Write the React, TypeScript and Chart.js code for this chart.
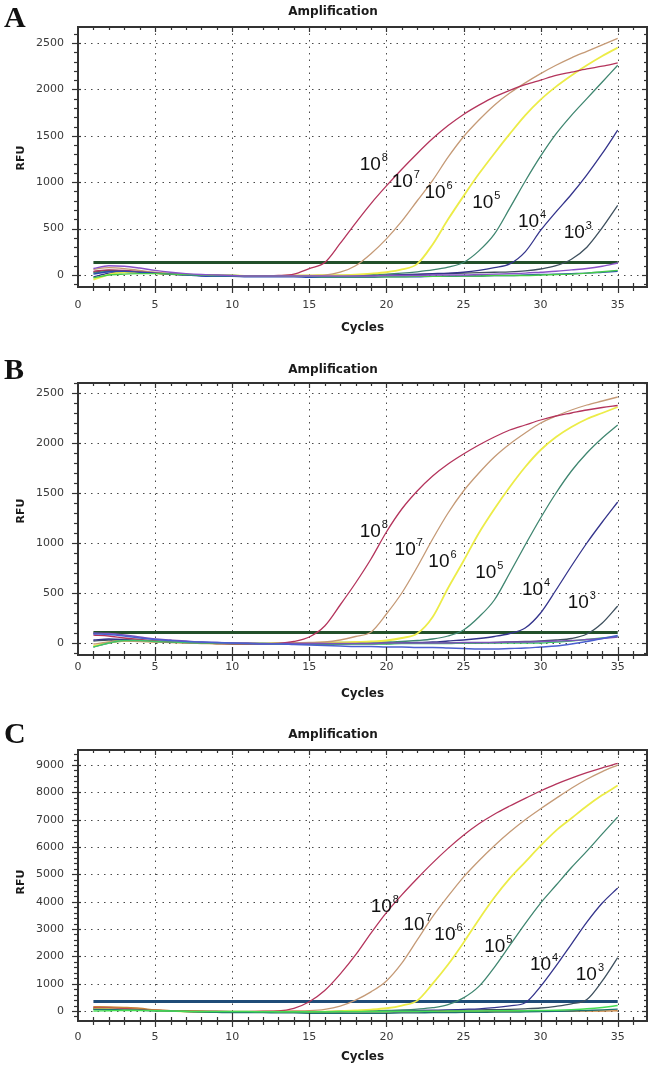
import React, { useEffect, useRef } from 'react';
import { Chart, registerables } from 'chart.js';

Chart.register(...registerables);
Chart.defaults.font.family = '"DejaVu Sans", sans-serif';

// ---------- shared categories ----------
const cycles = [1,2,3,4,5,6,7,8,9,10,11,12,13,14,15,16,17,18,19,20,21,22,23,24,25,26,27,28,29,30,31,32,33,34,35];
const xTickValues = [0, 5, 10, 15, 20, 25, 30, 35];
const seriesNames = ['10^8', '10^7', '10^6', '10^5', '10^4', '10^3'];
const exponents = ['8', '7', '6', '5', '4', '3'];
const curveColors = ['#b4345c', '#c59a76', '#ecec48', '#3f8670', '#34348c', '#3e505e'];
const curveWidths = [1.3, 1.3, 1.8, 1.3, 1.3, 1.3];

// ---------- Panel A ----------
const A_yTicks = [0, 500, 1000, 1500, 2000, 2500];
const A_1e8 = [40,55,50,35,20,10,5,0,-5,-10,-10,-8,-5,10,70,135,340,560,770,960,1140,1310,1470,1610,1730,1830,1920,1990,2050,2100,2150,2185,2220,2250,2285];
const A_1e7 = [60,80,70,50,30,15,5,0,-5,-8,-10,-10,-10,-8,-5,0,30,100,230,390,580,800,1020,1270,1490,1670,1830,1960,2070,2170,2260,2340,2410,2480,2550];
const A_1e6 = [-50,5,30,30,20,10,5,0,-5,-5,-10,-10,-10,-5,-5,0,0,5,15,30,60,120,330,600,850,1090,1310,1520,1720,1890,2030,2150,2260,2360,2450];
const A_1e5 = [20,40,40,30,20,10,0,-5,-5,-10,-10,-10,-10,-10,-10,-5,-5,0,5,10,20,35,55,85,135,260,440,720,1010,1280,1520,1720,1900,2080,2260];
const A_1e4 = [-20,20,35,30,20,10,0,-5,-10,-10,-15,-15,-15,-15,-15,-15,-10,-10,-5,0,5,10,15,20,30,50,80,120,250,480,680,870,1080,1310,1560];
const A_1e3 = [30,50,45,35,25,15,5,0,-5,-5,-10,-10,-10,-10,-10,-10,-10,-5,-5,0,0,5,10,15,20,25,30,35,45,65,100,170,300,510,750];
const A_negPurple = [70,100,95,75,50,30,15,5,0,-5,-10,-10,-10,-10,-10,-10,-10,-10,-10,-5,-5,-5,0,0,0,5,10,15,20,30,40,55,70,95,130];
const A_negGreen = [-30,0,10,15,15,10,5,0,-5,-5,-10,-10,-10,-15,-15,-20,-20,-20,-20,-20,-20,-15,-15,-10,-10,-10,-5,-5,-5,0,5,10,20,35,50];
const A_negBlue = [10,35,40,30,20,10,0,-10,-15,-15,-20,-20,-20,-20,-25,-25,-25,-25,-25,-20,-20,-20,-15,-15,-10,-10,-5,-5,0,5,10,15,20,30,40];
const A_threshold = 135;
const A_labelCycle = [18.27, 20.34, 22.47, 25.56, 28.53, 31.5];
const A_labelRFU = [1131, 948, 830, 722, 517, 399];

// ---------- Panel B ----------
const B_yTicks = [0, 500, 1000, 1500, 2000, 2500];
const B_1e8 = [80,70,50,35,20,10,5,0,-5,-10,-10,-10,-5,15,60,170,380,600,840,1110,1340,1520,1670,1790,1890,1980,2060,2130,2180,2230,2270,2300,2330,2355,2375];
const B_1e7 = [-10,10,20,15,10,5,0,-5,-5,-10,-10,-10,-5,0,5,10,30,65,110,290,500,760,1040,1300,1520,1700,1860,1990,2100,2200,2270,2330,2380,2420,2460];
const B_1e6 = [-30,5,20,20,15,10,5,0,-5,-5,-5,-5,0,0,0,5,5,10,15,25,50,95,260,550,820,1100,1340,1560,1760,1930,2060,2160,2240,2300,2360];
const B_1e5 = [-40,0,20,25,20,15,10,5,0,-5,-5,-5,-5,-5,0,0,5,5,10,10,15,25,40,70,130,260,430,700,980,1250,1500,1720,1900,2050,2180];
const B_1e4 = [30,40,35,25,15,10,5,0,-5,-5,-10,-10,-10,-10,-10,-10,-5,-5,-5,0,0,5,10,20,30,45,65,95,150,300,530,770,1000,1210,1410];
const B_1e3 = [20,30,25,20,15,10,5,0,-5,-5,-10,-10,-10,-10,-10,-10,-10,-5,-5,-5,0,0,0,0,0,0,5,10,15,20,30,45,90,200,370];
const B_negBlue = [90,85,70,50,35,25,15,10,5,0,-5,-10,-10,-15,-20,-25,-30,-35,-35,-40,-40,-45,-45,-50,-55,-60,-60,-55,-50,-40,-30,-10,15,45,75];
const B_negPurple = [100,95,80,60,40,30,20,10,5,0,0,-5,-5,-5,-5,-5,-5,-5,-5,0,0,0,0,0,5,5,5,10,10,15,20,25,35,45,60];
const B_negGreen = [-40,0,25,25,15,10,5,0,0,-5,-5,-5,-10,-10,-10,-10,-10,-10,-10,-10,-5,-5,-5,-5,0,0,0,0,0,0,10,20,35,50,65];
const B_threshold = 105;
const B_labelCycle = [18.27, 20.53, 22.72, 25.76, 28.79, 31.76];
const B_labelRFU = [1060, 880, 760, 650, 480, 350];

// ---------- Panel C ----------
const C_yTicks = [0, 1000, 2000, 3000, 4000, 5000, 6000, 7000, 8000, 9000];
const C_1e8 = [120,120,100,60,30,10,0,-10,-10,-20,-20,-10,0,100,340,750,1350,2050,2850,3600,4250,4850,5420,5950,6430,6850,7200,7500,7780,8050,8300,8520,8720,8900,9060];
const C_1e7 = [150,130,110,70,30,10,0,-10,-20,-20,-20,-20,-10,0,10,60,180,400,700,1100,1750,2600,3450,4200,4900,5500,6050,6550,7000,7400,7780,8150,8480,8760,9000];
const C_1e6 = [80,70,60,40,20,0,-20,-30,-30,-40,-40,-40,-40,-30,-30,-20,-10,20,50,100,200,380,1000,1700,2500,3350,4150,4850,5450,6050,6600,7050,7500,7900,8250];
const C_1e5 = [100,90,70,40,20,0,-20,-30,-30,-40,-40,-40,-40,-40,-30,-30,-20,-10,0,20,40,70,120,230,480,900,1600,2400,3200,3950,4600,5250,5850,6480,7100];
const C_1e4 = [60,60,50,30,10,0,-10,-20,-20,-30,-30,-30,-30,-30,-20,-20,-10,-10,0,0,10,20,30,40,60,80,120,190,300,900,1650,2450,3250,3950,4500];
const C_1e3 = [90,80,70,50,20,0,-10,-20,-20,-20,-30,-30,-30,-30,-20,-20,-20,-10,-10,0,0,10,15,20,30,40,50,60,80,110,170,260,420,1100,1950];
const C_negGreen = [0,10,20,20,10,0,-10,-20,-20,-20,-20,-30,-30,-30,-30,-30,-20,-20,-20,-20,-10,-10,-10,0,0,0,10,10,10,20,30,50,80,130,200];
const C_negTeal = [60,50,40,30,10,0,-20,-40,-50,-60,-60,-60,-70,-70,-80,-80,-80,-80,-80,-80,-70,-70,-60,-60,-50,-50,-40,-40,-30,-20,-10,0,20,40,70];
const C_negOrange = [160,150,130,100,40,10,0,-10,-20,-20,-20,-20,-20,-20,-20,-30,-30,-30,-30,-30,-30,-30,-20,-20,-20,-20,-20,-10,-10,-10,-10,-10,0,0,10];
const C_threshold = 350;
const C_labelCycle = [18.98, 21.11, 23.11, 26.34, 29.31, 32.28];
const C_labelRFU = [3622, 2964, 2598, 2159, 1500, 1134];

// ---------- panel layout (page pixels) ----------
const panels = [
  {
    key: 'A', letter: 'A', top: 0, height: 345, chartTop: 27, chartBottom: 287,
    yMin: -129, yMax: 2672, yTicks: A_yTicks, yMajor: 500, yMinor: 100,
    curves: [A_1e8, A_1e7, A_1e6, A_1e5, A_1e4, A_1e3],
    negatives: [[A_negPurple, '#8a52c8'], [A_negGreen, '#46cc4a'], [A_negBlue, '#2a4ab0']],
    threshold: A_threshold, thresholdColor: '#22502a',
    labelCycle: A_labelCycle, labelRFU: A_labelRFU,
    letterBase: 27, titleBase: 15, cyclesBase: 331, rfuY: 158, xTickPad: 12,
  },
  {
    key: 'B', letter: 'B', top: 345, height: 360, chartTop: 383, chartBottom: 655,
    yMin: -120, yMax: 2600, yTicks: B_yTicks, yMajor: 500, yMinor: 100,
    curves: [B_1e8, B_1e7, B_1e6, B_1e5, B_1e4, B_1e3],
    negatives: [[B_negBlue, '#4a5fd0'], [B_negPurple, '#7b52b8'], [B_negGreen, '#3fc46a']],
    threshold: B_threshold, thresholdColor: '#22502a',
    labelCycle: B_labelCycle, labelRFU: B_labelRFU,
    letterBase: 379, titleBase: 373, cyclesBase: 697, rfuY: 511, xTickPad: 6,
  },
  {
    key: 'C', letter: 'C', top: 705, height: 360, chartTop: 750, chartBottom: 1021,
    yMin: -366, yMax: 9550, yTicks: C_yTicks, yMajor: 1000, yMinor: 200,
    curves: [C_1e8, C_1e7, C_1e6, C_1e5, C_1e4, C_1e3],
    negatives: [[C_negGreen, '#44dd55'], [C_negTeal, '#1f6f6f'], [C_negOrange, '#c8803a']],
    threshold: C_threshold, thresholdColor: '#1f4c78',
    labelCycle: C_labelCycle, labelRFU: C_labelRFU,
    letterBase: 743, titleBase: 738, cyclesBase: 1060, rfuY: 882, xTickPad: 10,
  },
];

const X_MIN = 0;
const X_MAX = 36.9;
const CANVAS_W = 650;
const Y_AXIS_W = 78;

function makeOverlay(P: any) {
  const line = (ctx: CanvasRenderingContext2D, x1: number, y1: number, x2: number, y2: number) => {
    ctx.beginPath();
    ctx.moveTo(x1, y1);
    ctx.lineTo(x2, y2);
    ctx.stroke();
  };
  return {
    id: 'overlay' + P.key,
    beforeDatasetsDraw(chart: any) {
      const { ctx, chartArea: a } = chart;
      const xs = chart.scales.x;
      const ys = chart.scales.y;
      ctx.save();
      ctx.strokeStyle = '#4a4a4a';
      ctx.lineWidth = 1;
      ctx.setLineDash([1.5, 5]);
      ys.ticks.forEach((t: any) => {
        const py = Math.round(ys.getPixelForValue(t.value)) + 0.5;
        line(ctx, a.left, py, a.right, py);
      });
      xs.ticks.forEach((t: any) => {
        if (t.value <= 0) return;
        const px = Math.round(xs.getPixelForValue(t.value)) + 0.5;
        line(ctx, px, a.top, px, a.bottom);
      });
      ctx.restore();
    },
    afterDatasetsDraw(chart: any) {
      const { ctx, chartArea: a } = chart;
      const xs = chart.scales.x;
      const ys = chart.scales.y;
      const off = P.top;
      ctx.save();
      ctx.setLineDash([]);
      // frame
      ctx.strokeStyle = '#333';
      ctx.lineWidth = 2;
      ctx.strokeRect(a.left, a.top, a.right - a.left, a.bottom - a.top);
      // tick marks
      ctx.lineWidth = 1.2;
      for (let c = 1; c <= X_MAX; c++) {
        const px = Math.round(xs.getPixelForValue(c)) + 0.5;
        const major = c % 5 === 0;
        line(ctx, px, a.bottom - (major ? 8 : 4), px, a.bottom + (major ? 6 : 4));
        line(ctx, px, a.top, px, a.top + (major ? 5 : 3));
      }
      for (let v = Math.ceil(ys.min / P.yMinor) * P.yMinor; v <= ys.max; v += P.yMinor) {
        const py = Math.round(ys.getPixelForValue(v)) + 0.5;
        const major = v % P.yMajor === 0;
        line(ctx, a.left - (major ? 6 : 4), py, a.left + (major ? 3 : 0), py);
        line(ctx, a.right - (major ? 5 : 3), py, a.right, py);
      }
      // texts
      ctx.fillStyle = '#111';
      ctx.textBaseline = 'alphabetic';
      ctx.textAlign = 'left';
      ctx.font = 'bold 30px "Liberation Serif", serif';
      ctx.fillText(P.letter, 4, P.letterBase - off);
      ctx.fillStyle = '#1a1a1a';
      ctx.textAlign = 'center';
      ctx.font = 'bold 12px "DejaVu Sans"';
      ctx.fillText('Amplification', 333, P.titleBase - off);
      ctx.fillText('Cycles', (a.left + a.right) / 2, P.cyclesBase - off);
      ctx.save();
      ctx.translate(24, P.rfuY - off);
      ctx.rotate(-Math.PI / 2);
      ctx.font = 'bold 11px "DejaVu Sans"';
      ctx.fillText('RFU', 0, 0);
      ctx.restore();
      // curve labels
      ctx.fillStyle = '#111';
      ctx.textAlign = 'left';
      P.labelCycle.forEach((c: number, i: number) => {
        const px = xs.getPixelForValue(c);
        const py = ys.getPixelForValue(P.labelRFU[i]);
        ctx.font = '19px "Liberation Sans"';
        ctx.fillText('10', px, py);
        const w = ctx.measureText('10').width;
        ctx.font = '11px "Liberation Sans"';
        ctx.fillText(exponents[i], px + w + 1, py - 9);
      });
      ctx.restore();
    },
  };
}

function toPoints(vals: number[]) {
  return cycles.map((c, i) => ({ x: c, y: vals[i] }));
}

function Panel({ P }: { P: any }) {
  const ref = useRef<HTMLCanvasElement>(null);
  useEffect(() => {
    if (!ref.current) return;
    const datasets: any[] = [];
    P.negatives.forEach(([vals, color]: [number[], string], i: number) => {
      datasets.push({
        label: 'NTC ' + (i + 1),
        data: toPoints(vals),
        borderColor: color,
        borderWidth: 1.4,
        pointRadius: 0,
        cubicInterpolationMode: 'monotone',
      });
    });
    P.curves.forEach((vals: number[], i: number) => {
      datasets.push({
        label: seriesNames[i],
        data: toPoints(vals),
        borderColor: curveColors[i],
        borderWidth: curveWidths[i],
        pointRadius: 0,
        cubicInterpolationMode: 'monotone',
      });
    });
    datasets.push({
      label: 'Threshold',
      data: [{ x: cycles[0], y: P.threshold }, { x: cycles[cycles.length - 1], y: P.threshold }],
      borderColor: P.thresholdColor,
      borderWidth: 3,
      pointRadius: 0,
    });
    const tickFont = { family: '"DejaVu Sans"', size: 11 };
    const chart = new Chart(ref.current, {
      type: 'line',
      data: { datasets },
      options: {
        responsive: false,
        animation: false,
        devicePixelRatio: 1,
        layout: { padding: { top: P.chartTop - P.top, left: 0, right: CANVAS_W - 647, bottom: 0 } },
        plugins: { legend: { display: false }, tooltip: { enabled: false }, title: { display: false } },
        scales: {
          x: {
            type: 'linear',
            min: X_MIN,
            max: X_MAX,
            grid: { display: false, drawTicks: false },
            border: { display: false },
            afterBuildTicks: (s: any) => { s.ticks = xTickValues.map((v) => ({ value: v })); },
            ticks: { padding: P.xTickPad, font: tickFont, color: '#3a3a3a', maxRotation: 0, autoSkip: false, callback: (v: any) => String(v) },
            afterFit: (s: any) => { s.height = P.top + P.height - P.chartBottom; },
          },
          y: {
            type: 'linear',
            min: P.yMin,
            max: P.yMax,
            grid: { display: false, drawTicks: false },
            border: { display: false },
            afterBuildTicks: (s: any) => { s.ticks = P.yTicks.map((v: number) => ({ value: v })); },
            ticks: { padding: 14, font: tickFont, color: '#3a3a3a', autoSkip: false, callback: (v: any) => String(v) },
            afterFit: (s: any) => { s.width = Y_AXIS_W; },
          },
        },
      },
      plugins: [makeOverlay(P)],
    } as any);
    return () => chart.destroy();
  }, []);
  return (
    <div style={{ position: 'absolute', left: 0, top: P.top, width: CANVAS_W, height: P.height }}>
      <canvas ref={ref} width={CANVAS_W} height={P.height} style={{ width: CANVAS_W, height: P.height, display: 'block' }} />
    </div>
  );
}

export default function App() {
  return (
    <div style={{ position: 'absolute', left: 0, top: 0, width: 650, height: 1065, background: '#fff' }}>
      {panels.map((P) => <Panel key={P.key} P={P} />)}
    </div>
  );
}
